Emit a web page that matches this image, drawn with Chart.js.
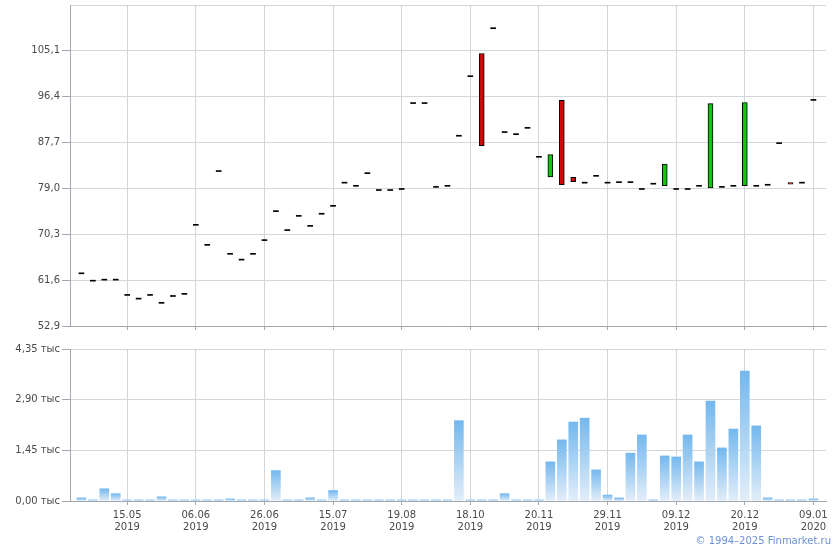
<!DOCTYPE html>
<html>
<head>
<meta charset="utf-8">
<script src="https://cdn.jsdelivr.net/npm/chart.js@4"></script>
<style>
    body { margin: 0; background: #fff; width: 840px; height: 550px; position: relative; overflow: hidden; font-family: "DejaVu Sans", sans-serif; }
    #price-box { position: absolute; left: 0; top: 0; width: 840px; height: 335px; }
    #volume-box { position: absolute; left: 0; top: 340px; width: 840px; height: 210px; }
    #copyright { position: absolute; right: 9px; top: 535px; font-size: 10px; color: #6b90d8; }
</style>
</head>
<body>
<div id="price-box"><canvas id="priceChart" width="840" height="335"></canvas></div>
<div id="volume-box"><canvas id="volumeChart" width="840" height="210"></canvas></div>
<div id="copyright">© 1994–2025 Finmarket.ru</div>

<script>
// open / close per trading day (index 0..64)
const opens = [
    62.8, 61.4, 61.6, 61.6, 58.7, 58.0, 58.7, 57.2, 58.5, 58.9,
    72.0, 68.2, 82.2, 66.5, 65.4, 66.5, 69.1, 74.6, 71.0, 73.7,
    71.8, 74.1, 75.6, 80.0, 79.4, 81.8, 78.6, 78.6, 78.8, 95.1,
    95.1, 79.2, 79.4, 88.9, 100.2, 104.6, 109.3, 89.6, 89.2, 90.4,
    84.9, 81.2, 95.7, 81.1, 80.0, 81.3, 80.0, 80.1, 80.1, 78.8,
    79.8, 79.5, 78.8, 78.8, 79.4, 79.1, 79.2, 79.4, 79.5, 79.4,
    79.6, 87.5, 80.1, 80.0, 95.7
];
const closes = [
    62.8, 61.4, 61.6, 61.6, 58.7, 58.0, 58.7, 57.2, 58.5, 58.9,
    72.0, 68.2, 82.2, 66.5, 65.4, 66.5, 69.1, 74.6, 71.0, 73.7,
    71.8, 74.1, 75.6, 80.0, 79.4, 81.8, 78.6, 78.6, 78.8, 95.1,
    95.1, 79.2, 79.4, 88.9, 100.2, 87.1, 109.3, 89.6, 89.2, 90.4,
    84.9, 85.4, 79.7, 80.3, 80.0, 81.3, 80.0, 80.1, 80.1, 78.8,
    79.8, 83.6, 78.8, 78.8, 79.4, 95.1, 79.2, 79.4, 95.3, 79.4,
    79.6, 87.5, 79.8, 80.0, 95.7
];
// volume, thousands
const volumes = [
    0.09, 0.03, 0.35, 0.21, 0.03, 0.03, 0.03, 0.12, 0.03, 0.03,
    0.03, 0.03, 0.03, 0.06, 0.03, 0.03, 0.03, 0.87, 0.03, 0.03,
    0.09, 0.03, 0.30, 0.03, 0.03, 0.03, 0.03, 0.03, 0.03, 0.03,
    0.03, 0.03, 0.03, 2.30, 0.03, 0.03, 0.03, 0.21, 0.03, 0.03,
    0.03, 1.12, 1.75, 2.26, 2.37, 0.89, 0.17, 0.09, 1.37, 1.89,
    0.03, 1.29, 1.26, 1.89, 1.12, 2.86, 1.52, 2.06, 3.72, 2.15,
    0.09, 0.03, 0.03, 0.03, 0.06
];

const xTickIndex = [4, 10, 16, 22, 28, 34, 40, 46, 52, 58, 64];
const xTickLabels = [
    ['15.05', '2019'], ['06.06', '2019'], ['26.06', '2019'], ['15.07', '2019'],
    ['19.08', '2019'], ['18.10', '2019'], ['20.11', '2019'], ['29.11', '2019'],
    ['09.12', '2019'], ['20.12', '2019'], ['09.01', '2020']
];
const priceTicks = [52.9, 61.6, 70.3, 79.0, 87.7, 96.4, 105.1, 113.8];
const volumeTicks = [0, 1.45, 2.90, 4.35];

const gridColor = '#d3d7db';
const axisColor = '#a3a7ae';
const labelColor = '#4a4a4a';
const font = { family: 'DejaVu Sans', size: 10, lineHeight: 1.2 };

function xScale(showLabels) {
    return {
        type: 'linear',
        min: -1,
        max: 65.1,
        offset: false,
        afterBuildTicks: (scale) => { scale.ticks = xTickIndex.map(v => ({ value: v })); },
        afterFit: (scale) => { scale.height = showLabels ? 49 : 9; },
        grid: { color: gridColor, tickColor: axisColor, tickLength: 4, offset: false },
        border: { color: axisColor },
        ticks: {
            display: showLabels,
            autoSkip: false,
            maxRotation: 0,
            color: labelColor,
            font: font,
            padding: 4,
            callback: (value, index) => xTickLabels[index]
        }
    };
}

function yScale(min, max, tickList, format, topTick) {
    return {
        min: min,
        max: max,
        afterBuildTicks: (scale) => { scale.ticks = tickList.map(v => ({ value: v })); },
        afterFit: (scale) => {
            scale.width = 70;
            scale.paddingTop = 0;
            scale.paddingBottom = 0;
        },
        grid: {
            color: gridColor,
            tickColor: (c) => (!topTick && c.index === tickList.length - 1) ? 'rgba(0,0,0,0)' : axisColor,
            tickLength: 8
        },
        border: { color: axisColor },
        ticks: { color: labelColor, font: font, padding: 2, autoSkip: false, callback: format }
    };
}

let candleColors = opens.map((o, i) => closes[i] > o ? '#11c511' : (closes[i] < o ? '#cc0a0a' : '#000'));
let candleBorders = opens.map((o, i) => closes[i] === o ? 0 : 1);

new Chart(document.getElementById('priceChart'), {
    type: 'bar',
    data: {
        datasets: [{
            data: opens.map((o, i) => ({ x: i, y: [o, closes[i]] })),
            backgroundColor: candleColors,
            borderColor: '#000',
            borderWidth: candleBorders,
            borderSkipped: false,
            barThickness: 5,
            minBarLength: 1
        }]
    },
    options: {
        responsive: false,
        animation: false,
        layout: { padding: { left: 0, right: 14, top: 5, bottom: 0 } },
        plugins: { legend: { display: false }, tooltip: { enabled: false } },
        scales: {
            x: xScale(false),
            y: yScale(52.9, 113.8, priceTicks, (v) => v > 110 ? '' : v.toFixed(1).replace('.', ','), false)
        }
    }
});

new Chart(document.getElementById('volumeChart'), {
    type: 'bar',
    data: {
        datasets: [{
            data: volumes.map((v, i) => ({ x: i, y: v })),
            backgroundColor: function(c) {
                const chart = c.chart;
                if (!chart.chartArea || c.raw === undefined) return '#9fcdf2';
                const y = chart.scales.y;
                const top = y.getPixelForValue(c.raw.y);
                const bottom = y.getPixelForValue(0);
                if (bottom - top < 1) return '#8fc5f1';
                const g = chart.ctx.createLinearGradient(0, top, 0, bottom);
                g.addColorStop(0, '#74b8ee');
                g.addColorStop(1, '#e3eef9');
                return g;
            },
            borderWidth: 0,
            barThickness: 9,
            minBarLength: 1
        }]
    },
    options: {
        responsive: false,
        animation: false,
        layout: { padding: { left: 0, right: 14, top: 9, bottom: 0 } },
        plugins: { legend: { display: false }, tooltip: { enabled: false } },
        scales: {
            x: xScale(true),
            y: yScale(0, 4.35, volumeTicks, (v) => v.toFixed(2).replace('.', ',') + ' тыс', true)
        }
    }
});
</script>
</body>
</html>
